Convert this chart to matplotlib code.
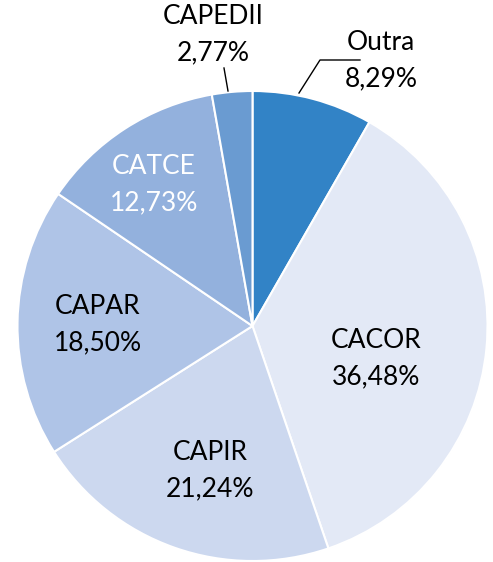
import matplotlib
matplotlib.use("Agg")
import matplotlib.pyplot as plt

categories = ["Outra", "CACOR", "CAPIR", "CAPAR", "CATCE", "CAPEDII"]
values = [8.29, 36.48, 21.24, 18.50, 12.73, 2.77]
colors = ["#3283C6", "#E3E9F6", "#CCD8EF", "#AFC4E7", "#93B1DD", "#6A9BD1"]
label_text_colors = ["black", "black", "black", "black", "white", "black"]

W, H = 493, 562
fig = plt.figure(figsize=(W / 100, H / 100), dpi=100)
ax = fig.add_axes([0, 0, 1, 1])

cx, cy, r = 252.5, H - 326, 235
ax.pie(values, colors=colors, startangle=90, counterclock=False,
       center=(cx, cy), radius=r,
       wedgeprops=dict(edgecolor="white", linewidth=1.5))
ax.set_xlim(0, W)
ax.set_ylim(0, H)
ax.set_aspect("equal")
ax.axis("off")

# label positions in pixel coords (x, y from top)
label_pos = {
    "Outra": (381, 61),
    "CACOR": (376, 359),
    "CAPIR": (210, 471),
    "CAPAR": (98, 325),
    "CATCE": (154, 185),
    "CAPEDII": (213, 35),
}
font = dict(family=["Lato", "DejaVu Sans"], fontsize=19)
for cat, val, tc in zip(categories, values, label_text_colors):
    x, y = label_pos[cat]
    txt = f"{cat}\n{val:.2f}%".replace(".", ",")
    ax.text(x, H - y, txt, ha="center", va="center", color=tc,
            linespacing=1.55, **font)

# leader lines
ax.plot([299, 320, 360], [H - 93, H - 60, H - 60], color="black", lw=1)
ax.plot([224, 228], [H - 68, H - 91], color="black", lw=1)

fig.savefig("out.png", dpi=100)
